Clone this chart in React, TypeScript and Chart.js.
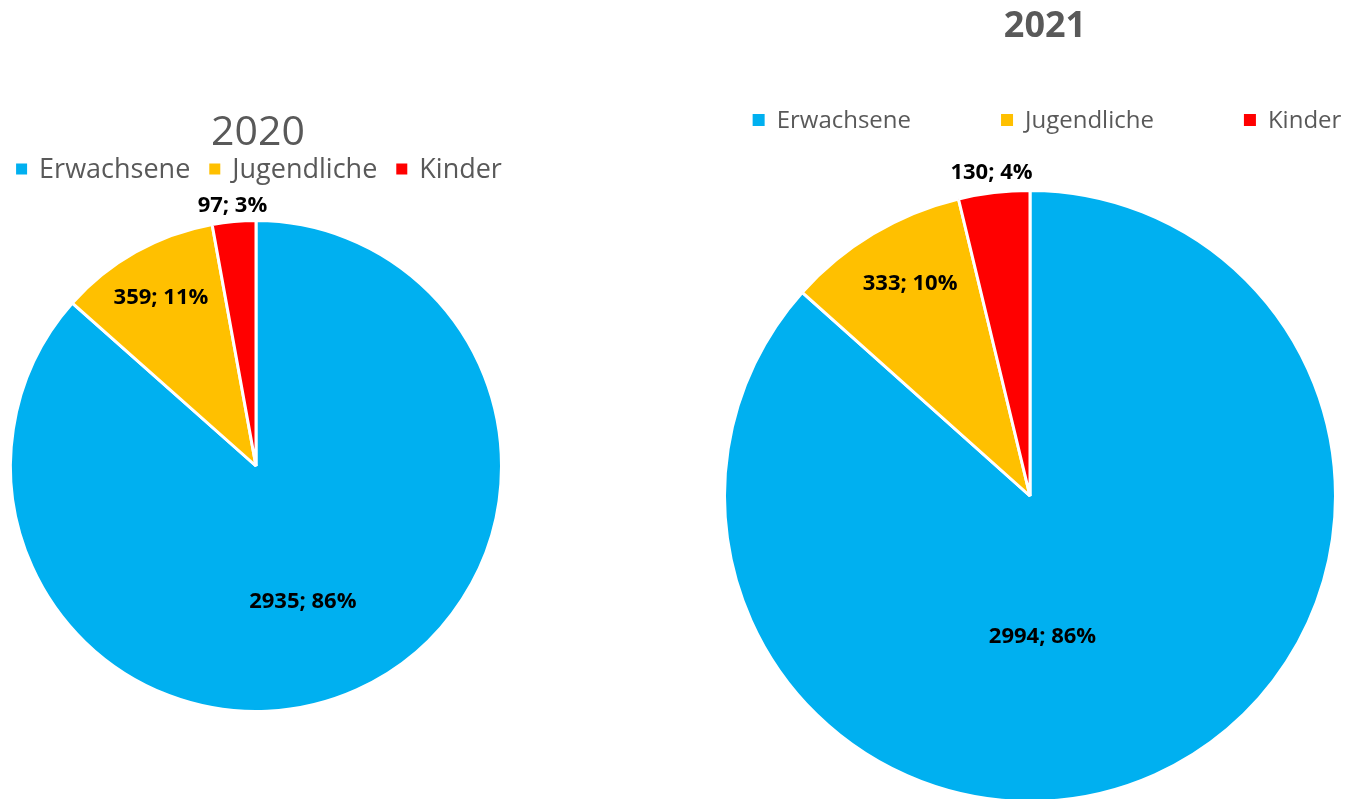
import React, { useEffect, useRef } from "react";
import { Chart, registerables } from "chart.js";

Chart.register(...registerables);

// ---- data ----
const categories = ["Erwachsene", "Jugendliche", "Kinder"];
const values2020 = [2935, 359, 97];
const percent2020 = [86, 11, 3];
const values2021 = [2994, 333, 130];
const percent2021 = [86, 10, 4];
const sliceColors = ["#00B0F0", "#FFC000", "#FF0000"];
const title2020 = "2020";
const title2021 = "2021";

const FONT = "'Open Sans', 'Noto Sans', sans-serif";

const decorPlugin = {
  id: "decor",
  afterDraw(chart: any, _args: any, opts: any) {
    const ctx: CanvasRenderingContext2D = chart.ctx;
    ctx.save();
    // title
    ctx.fillStyle = "#595959";
    ctx.font = opts.titleFont;
    ctx.textAlign = "center";
    ctx.textBaseline = "middle";
    ctx.fillText(opts.title, opts.titleX, opts.titleY);

    // legend
    const labels: string[] = chart.data.labels;
    const colors: string[] = chart.data.datasets[0].backgroundColor;
    ctx.font = opts.legendFont;
    const box = opts.box;
    const itemW = labels.map((l) => box + opts.boxGap + ctx.measureText(l).width);
    const total = itemW.reduce((a, b) => a + b, 0) + opts.itemGap * (labels.length - 1);
    let x = opts.legendX - total / 2;
    ctx.textAlign = "left";
    labels.forEach((l, i) => {
      ctx.fillStyle = colors[i];
      ctx.fillRect(x, opts.legendY - box / 2, box, box);
      ctx.fillStyle = "#595959";
      ctx.fillText(l, x + box + opts.boxGap, opts.legendY + 1);
      x += itemW[i] + opts.itemGap;
    });

    // data labels
    const meta = chart.getDatasetMeta(0);
    const data: number[] = chart.data.datasets[0].data;
    ctx.font = opts.labelFont;
    ctx.fillStyle = "#000000";
    ctx.textAlign = "center";
    meta.data.forEach((arc: any, i: number) => {
      const p = arc.getProps(["x", "y", "startAngle", "endAngle", "outerRadius"], true);
      const a = (p.startAngle + p.endAngle) / 2 + (opts.labelAngle[i] * Math.PI) / 180;
      const r = p.outerRadius * opts.labelRadius[i];
      ctx.fillText(`${data[i]}; ${opts.percents[i]}%`, p.x + Math.cos(a) * r, p.y + Math.sin(a) * r + 1);
    });
    ctx.restore();
  },
};

type PieProps = {
  values: number[];
  percents: number[];
  title: string;
  left: number;
  width: number;
  height: number;
  padding: { left: number; right: number; top: number; bottom: number };
  decor: any;
};

function PieChart(props: PieProps) {
  const ref = useRef<HTMLCanvasElement | null>(null);
  useEffect(() => {
    if (!ref.current) return;
    const chart = new Chart(ref.current, {
      type: "pie",
      data: {
        labels: categories,
        datasets: [
          {
            data: props.values,
            backgroundColor: sliceColors,
            borderColor: "#FFFFFF",
            borderWidth: 3,
            hoverOffset: 0,
          },
        ],
      },
      options: {
        responsive: false,
        animation: false,
        devicePixelRatio: 1,
        layout: { padding: props.padding },
        events: [],
        plugins: {
          legend: { display: false },
          tooltip: { enabled: false },
          title: { display: false },
          decor: { ...props.decor, title: props.title, percents: props.percents },
        } as any,
      },
      plugins: [decorPlugin as any],
    });
    return () => chart.destroy();
  }, []);
  return (
    <canvas
      ref={ref}
      width={props.width}
      height={props.height}
      style={{ position: "absolute", left: props.left, top: 0, width: props.width, height: props.height }}
    />
  );
}

export default function App() {
  return (
    <div
      style={{
        position: "fixed",
        left: 0,
        top: 0,
        width: 1349,
        height: 799,
        overflow: "hidden",
        background: "#FFFFFF",
      }}
    >
      <PieChart
        values={values2020}
        percents={percent2020}
        title={title2020}
        left={0}
        width={512}
        height={799}
        padding={{ left: 9, right: 9, top: 219, bottom: 86 }}
        decor={{
          titleFont: `400 41px ${FONT}`,
          titleX: 258,
          titleY: 133,
          legendFont: `400 27px ${FONT}`,
          legendX: 259,
          legendY: 169,
          box: 11,
          boxGap: 12,
          itemGap: 19,
          labelFont: `700 22px ${FONT}`,
          labelRadius: [0.58, 0.79, 1.07],
          labelAngle: [5, 0, 0],
        }}
      />
      <PieChart
        values={values2021}
        percents={percent2021}
        title={title2021}
        left={700}
        width={649}
        height={803}
        padding={{ left: 11, right: 0, top: 189, bottom: 0 }}
        decor={{
          titleFont: `700 36px ${FONT}`,
          titleX: 345,
          titleY: 27,
          legendFont: `400 24px ${FONT}`,
          legendX: 347,
          legendY: 120,
          box: 12,
          boxGap: 12,
          itemGap: 90,
          labelFont: `700 22px ${FONT}`,
          labelRadius: [0.46, 0.8, 1.07],
          labelAngle: [19, 1.5, 0],
        }}
      />
    </div>
  );
}
